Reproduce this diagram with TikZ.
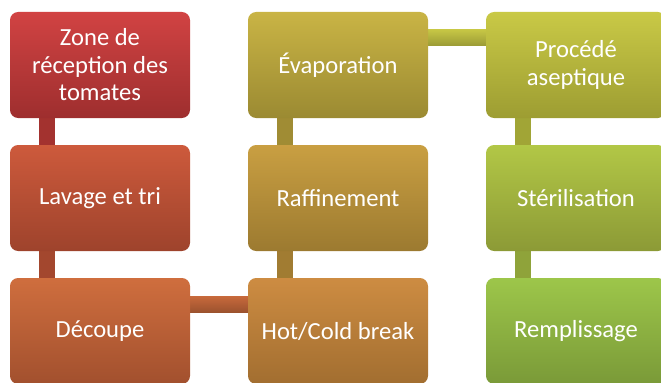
\documentclass[tikz,border=0pt]{standalone}
\usepackage{fontspec}
\setmainfont{Carlito}
\usetikzlibrary{positioning, backgrounds}

\definecolor{zoneTop}{HTML}{D14343}
\definecolor{zoneBot}{HTML}{9E2E2E}
\definecolor{lavTop}{HTML}{CD5A3C}
\definecolor{lavBot}{HTML}{9E432C}
\definecolor{decTop}{HTML}{CF6E3E}
\definecolor{decBot}{HTML}{A2502E}
\definecolor{hotTop}{HTML}{CD8C42}
\definecolor{hotBot}{HTML}{A26E30}
\definecolor{rafTop}{HTML}{C99F42}
\definecolor{rafBot}{HTML}{9C7A30}
\definecolor{evaTop}{HTML}{C9B445}
\definecolor{evaBot}{HTML}{9B8A32}
\definecolor{proTop}{HTML}{C9C946}
\definecolor{proBot}{HTML}{9D9D32}
\definecolor{sterTop}{HTML}{B2C746}
\definecolor{sterBot}{HTML}{8C9A36}
\definecolor{rempTop}{HTML}{9DC64A}
\definecolor{rempBot}{HTML}{7A9A38}

\begin{document}
\begin{tikzpicture}[node distance=0.81cm and 1.74cm,
    stage/.style={rectangle, rounded corners=7pt, minimum width=5.4cm, minimum height=3.18cm, outer sep=0pt, align=center, text=white, font=\fontsize{21pt}{23.5pt}\selectfont},
    vlink/.style={fill=#1},
    hlink/.style={top color=#1, bottom color=#1!78!black}]

    \useasboundingbox (0,0) rectangle (19.83,-11.49);

    % --- First column ---
    \node[stage, top color=zoneTop, bottom color=zoneBot] (zone) at (3.0,-1.95) {Zone de\\réception des\\tomates};
    \node[stage, top color=lavTop, bottom color=lavBot] (lavage) [below=of zone] {Lavage et tri};
    \node[stage, top color=decTop, bottom color=decBot] (decoupe) [below=of lavage] {Découpe};

    % --- Second column ---
    \node[stage, top color=hotTop, bottom color=hotBot] (hotcold) [right=of decoupe] {Hot/Cold break};
    \node[stage, top color=rafTop, bottom color=rafBot] (raffinage) [above=of hotcold] {Raffinement};
    \node[stage, top color=evaTop, bottom color=evaBot] (evap) [above=of raffinage] {Évaporation};

    % --- Third column ---
    \node[stage, top color=proTop, bottom color=proBot] (aseptique) [right=of evap] {Procédé\\aseptique};
    \node[stage, top color=sterTop, bottom color=sterBot] (steril) [below=of aseptique] {Stérilisation};
    \node[stage, top color=rempTop, bottom color=rempBot] (rempl) [below=of steril] {Remplissage};

    % --- Connectors ---
    \begin{scope}[on background layer]
        \fill[vlink=zoneBot!90!lavTop] ([xshift=0.87cm]zone.south west) rectangle ([xshift=1.35cm]lavage.north west);
        \fill[vlink=lavBot!90!decTop] ([xshift=0.87cm]lavage.south west) rectangle ([xshift=1.35cm]decoupe.north west);
        \shade[hlink=decTop!85!decBot] ([yshift=-0.54cm]decoupe.north east) rectangle ([yshift=-1.02cm]hotcold.north west);
        \fill[vlink=rafBot!90!hotTop] ([xshift=0.87cm]raffinage.south west) rectangle ([xshift=1.35cm]hotcold.north west);
        \fill[vlink=evaBot!90!rafTop] ([xshift=0.87cm]evap.south west) rectangle ([xshift=1.35cm]raffinage.north west);
        \shade[hlink=proTop!92!proBot] ([yshift=-0.54cm]evap.north east) rectangle ([yshift=-1.02cm]aseptique.north west);
        \fill[vlink=proBot!80!sterTop] ([xshift=0.87cm]aseptique.south west) rectangle ([xshift=1.35cm]steril.north west);
        \fill[vlink=sterBot!80!rempTop] ([xshift=0.87cm]steril.south west) rectangle ([xshift=1.35cm]rempl.north west);
    \end{scope}

\end{tikzpicture}
\end{document}
